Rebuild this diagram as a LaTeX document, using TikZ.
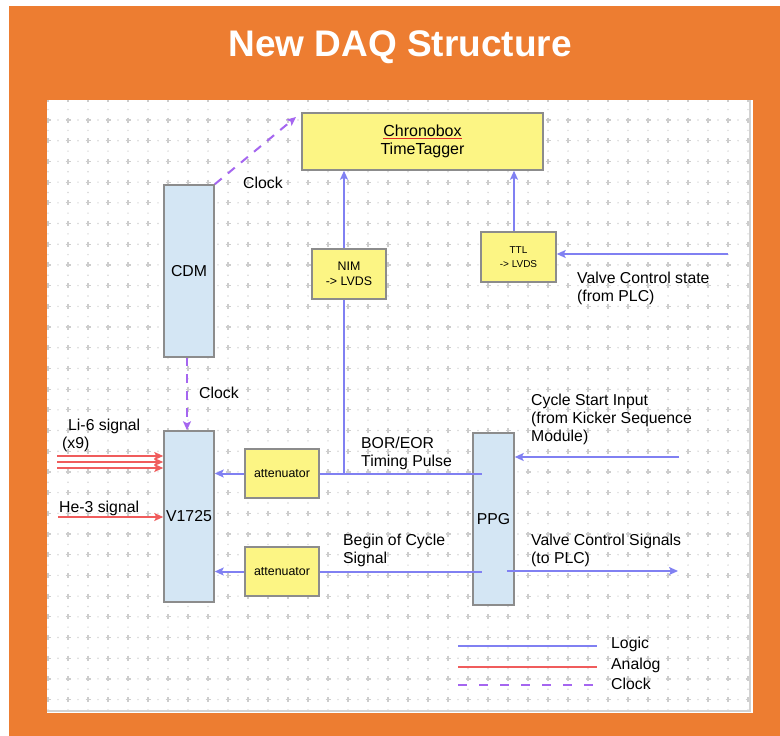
\documentclass[tikz,border=0pt]{standalone}
\usepackage{fontspec}
\setmainfont{Liberation Sans}
\usetikzlibrary{arrows.meta}
\definecolor{orng}{HTML}{ED7D31}
\definecolor{logicc}{RGB}{128,128,242}
\definecolor{analogc}{RGB}{240,92,92}
\definecolor{clockc}{RGB}{165,102,240}
\definecolor{yfill}{RGB}{252,245,132}
\definecolor{bfill}{RGB}{212,230,244}
\definecolor{boxgray}{RGB}{140,140,140}
\definecolor{gridc}{RGB}{205,205,205}
\definecolor{dotc}{RGB}{215,215,215}
\definecolor{panelb}{RGB}{210,210,210}
\definecolor{ulred}{RGB}{225,40,40}
\pgfdeclarelayer{gridlayer}
\pgfdeclarelayer{edgelayer}
\pgfsetlayers{gridlayer,edgelayer,main}
\newcommand\redul[1]{\sbox0{#1}\rlap{\color{ulred}\rule[-2pt]{\wd0}{1.1pt}}\usebox0}
\newcommand\lblfont{\fontsize{15.8}{18}\selectfont}
\newcommand\smallfont{\fontsize{12.4}{15}\selectfont}
\tikzset{
  box/.style={draw=boxgray, line width=1.5pt, inner sep=0pt, align=center},
  ybox/.style={box, fill=yfill},
  bbox/.style={box, fill=bfill},
  lbl/.style={inner sep=0pt, anchor=west, align=left, font=\lblfont},
  logic/.style={draw=logicc, line width=2pt},
  analog/.style={draw=analogc, line width=2pt},
  clock/.style={draw=clockc, line width=2pt, dash pattern=on 9pt off 8pt},
  arr/.style={-{Stealth[length=9pt,width=8pt,inset=2pt]}},
}
\begin{document}
\begin{tikzpicture}[x=1pt,y=-1pt]
\useasboundingbox (0,0) rectangle (780,736);
\begin{pgfonlayer}{gridlayer}
  \fill[white] (0,0) rectangle (780,736);
  \fill[orng] (9,6) rectangle (780,736);
  \fill[white] (47,100) rectangle (753,713);
  \begin{scope}
    \clip (47,100) rectangle (750,710);
    \draw[gridc, line width=1.2pt] \foreach \i in {-1,...,34}{ \foreach \j in {-1,...,28}{
      ({68+20*\i},{120+20.7*\j}) ++(-2.5,0) -- ++(5,0) ++(-2.5,-2.5) -- ++(0,5) } };
    \fill[dotc] \foreach \i in {-1,...,34}{ \foreach \j in {-1,...,28}{
      ({78+20*\i},{120+20.7*\j}) circle[radius=0.8pt]
      ({68+20*\i},{130.35+20.7*\j}) circle[radius=0.8pt] } };
  \end{scope}
  \draw[panelb, line width=2pt] (750,100) -- (750,711) -- (47,711);
\end{pgfonlayer}

\node[font=\fontsize{37}{40}\selectfont\bfseries, text=white] (title) at (400,47) {New DAQ Structure};

\node[ybox, minimum width=241pt, minimum height=57pt, font=\fontsize{16}{18}\selectfont] (chrono) at (422.5,141.5) {\redul{Chronobox}\\TimeTagger};
\node[bbox, minimum width=50pt, minimum height=172pt, font=\lblfont] (cdm) at (189,271) {CDM};
\node[ybox, minimum width=74pt, minimum height=50pt, font=\smallfont] (nim) at (349,274) {NIM\\-> LVDS};
\node[ybox, minimum width=75pt, minimum height=50pt, font=\fontsize{10}{14}\selectfont] (ttl) at (518.5,257) {TTL\\-> LVDS};
\node[bbox, minimum width=50pt, minimum height=171pt, font=\lblfont] (v1725) at (189,516.5) {V1725};
\node[ybox, minimum width=74pt, minimum height=49pt, font=\smallfont] (att1) at (282,473.5) {attenuator};
\node[ybox, minimum width=74pt, minimum height=49pt, font=\smallfont] (att2) at (282,571.5) {attenuator};
\node[bbox, minimum width=41pt, minimum height=172pt, font=\lblfont] (ppg) at (493.5,519) {PPG};

\coordinate (clk) at (296,117);
\coordinate (cdmbot) at (187,357);
\coordinate (bor) at (344,474);
\coordinate (ttltop) at (514,232);
\coordinate (vcsin) at (728,254);
\coordinate (cycin) at (679,457);
\coordinate (vcsout) at (678,571);
\coordinate (li1) at (57,456);
\coordinate (li2) at (57,462);
\coordinate (li3) at (57,468);
\coordinate (he) at (58,517);

\begin{pgfonlayer}{edgelayer}
  \draw[clock,arr] (cdm.north east) -- (clk);
  \draw[clock,arr] (cdmbot) -- (cdmbot |- v1725.north);
  \draw[logic,arr] (bor) -- (bor |- chrono.south);
  \draw[logic,arr] (ttltop) -- (ttltop |- chrono.south);
  \draw[logic,arr] (vcsin) -- (vcsin -| ttl.east);
  \draw[logic,arr] (att1.west) -- (att1.west -| v1725.east);
  \draw[logic,arr] (att2.west) -- (att2.west -| v1725.east);
  \draw[logic,arr] (cycin) -- (cycin -| ppg.east);
  \draw[analog,arr] (li1) -- (li1 -| v1725.west);
  \draw[analog,arr] (li2) -- (li2 -| v1725.west);
  \draw[analog,arr] (li3) -- (li3 -| v1725.west);
  \draw[analog,arr] (he) -- (he -| v1725.west);
\end{pgfonlayer}
\draw[logic] (att1.east) -- ([xshift=10pt]ppg.west |- att1.east);
\draw[logic] (att2.east) -- ([xshift=10pt]ppg.west |- att2.east);
\draw[logic,arr] ([xshift=-8pt]ppg.east |- vcsout) -- (vcsout);

\node[lbl] (clk1) at (243,183) {Clock};
\node[lbl] (clk2) at (199,393) {Clock};
\node[lbl] (vcs) at (577,288) {Valve Control state\\(from PLC)};
\node[lbl] (li6) at (62,435) {\hspace*{6pt}Li-6 signal\\(x9)};
\node[lbl] (he3) at (59,508) {He-3 signal};
\node[lbl] (borl) at (361,453) {BOR/EOR\\Timing Pulse};
\node[lbl] (boc) at (343,550.5) {Begin of Cycle\\Signal};
\node[lbl] (csi) at (531,419) {Cycle Start Input\\(from Kicker Sequence\\Module)};
\node[lbl] (vcsl) at (531,550) {Valve Control Signals\\(to PLC)};

\coordinate (lg1a) at (458,646); \coordinate (lg1b) at (597,646);
\coordinate (lg2a) at (458,667); \coordinate (lg2b) at (597,667);
\coordinate (lg3a) at (458,685); \coordinate (lg3b) at (597,685);
\draw[logic] (lg1a) -- (lg1b);
\draw[analog] (lg2a) -- (lg2b);
\draw[clock, dash pattern=on 9pt off 12pt] (lg3a) -- (lg3b);
\node[lbl] (lgt1) at (611,644) {Logic};
\node[lbl] (lgt2) at (611,665) {Analog};
\node[lbl] (lgt3) at (611,684) {Clock};
\end{tikzpicture}
\end{document}
